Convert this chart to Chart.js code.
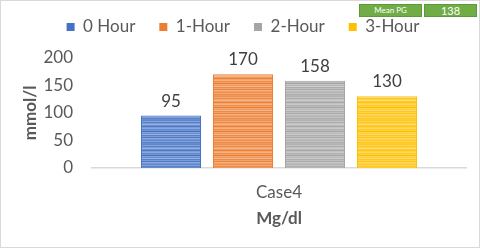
<!DOCTYPE html>
<html>
<head>
<meta charset="utf-8">
<script src="https://cdn.jsdelivr.net/npm/chart.js@4"></script>
<style>
  body { margin: 0; background: #fff; }
  #wrap { position: relative; width: 480px; height: 248px; }
  #frame { position: absolute; left: 0; top: 0; width: 480px; height: 248px; box-sizing: border-box;
           border: 1px solid #d9d9d9; pointer-events: none; }
  .pg { position: absolute; top: 4px; height: 13px; background: #70ad47; border: 1px solid #5b9a36;
        box-sizing: border-box; color: #fff; font-family: Lato, sans-serif; text-align: center; line-height: 11px; }
</style>
</head>
<body>
<div id="wrap">
  <canvas id="chart" width="480" height="248"></canvas>
  <div class="pg" style="left:359px;width:63px;font-size:8px;">Mean PG</div>
  <div class="pg" style="left:424px;width:53px;font-size:11px;">138</div>
  <div id="frame"></div>
</div>
<script>
// data
const categories = ['Case4'];
const seriesNames = ['0 Hour', '1-Hour', '2-Hour', '3-Hour'];
const seriesValues = [[95], [170], [158], [130]];
const yTicks = [0, 50, 100, 150, 200];

const colors = ['#4472c4', '#ed7d31', '#a5a5a5', '#ffc000'];

// horizontal stripe texture like the office export
function stripes(base) {
  const c = document.createElement('canvas');
  c.width = 4; c.height = 24;
  const g = c.getContext('2d');
  g.fillStyle = base;
  g.fillRect(0, 0, 4, 24);
  const light = [0.15, 0.35, 0.1, 0.3, 0.45, 0.2, 0.05, 0.3, 0.4, 0.15, 0.25, 0.0,
                 0.35, 0.2, 0.45, 0.1, 0.3, 0.05, 0.4, 0.25, 0.15, 0.35, 0.1, 0.2];
  light.forEach((a, i) => {
    g.fillStyle = 'rgba(255,255,255,' + a + ')';
    g.fillRect(0, i, 4, 1);
  });
  return g.createPattern(c, 'repeat');
}

const ctx = document.getElementById('chart').getContext('2d');

const valueLabels = {
  id: 'valueLabels',
  afterDatasetsDraw(chart) {
    const c = chart.ctx;
    c.save();
    c.font = '17px Lato';
    c.fillStyle = '#404040';
    c.textAlign = 'center';
    c.textBaseline = 'bottom';
    chart.data.datasets.forEach((ds, i) => {
      chart.getDatasetMeta(i).data.forEach((bar, j) => {
        c.fillText(ds.data[j], bar.x, bar.y - 6);
      });
    });
    c.restore();
  }
};

const tickFont = { family: 'Lato', size: 17 };

new Chart(ctx, {
  type: 'bar',
  data: {
    labels: categories,
    datasets: seriesNames.map((name, i) => ({
      label: name,
      data: seriesValues[i],
      backgroundColor: stripes(colors[i]),
      borderColor: colors[i],
      borderWidth: 1,
      categoryPercentage: 0.77,
      barPercentage: 0.833
    }))
  },
  options: {
    responsive: false,
    animation: false,
    layout: { padding: { left: 20, right: 14, top: -5.5, bottom: 19 } },
    plugins: {
      tooltip: { enabled: false },
      // empty title used as a spacer under the legend
      title: { display: true, text: ' ', position: 'top', weight: 100, font: { size: 1 }, padding: { top: 0, bottom: 11 } },
      legend: {
        labels: {
          color: '#595959',
          font: tickFont,
          boxWidth: 8,
          boxHeight: 8,
          padding: 24,
          generateLabels(chart) {
            return chart.data.datasets.map((ds, i) => ({
              text: ds.label,
              fillStyle: colors[i],
              strokeStyle: colors[i],
              lineWidth: 0,
              datasetIndex: i,
              fontColor: '#595959'
            }));
          }
        }
      }
    },
    scales: {
      x: {
        afterFit(scale) { scale.height = 61; },
        grid: { display: false, drawTicks: false },
        border: { color: '#d9d9d9', width: 1.5 },
        ticks: { color: '#595959', font: tickFont, padding: 14 },
        title: { display: true, text: 'Mg/dl', color: '#595959', font: { family: 'Lato', size: 17, weight: 'bold' }, padding: { top: 0, bottom: 0 } }
      },
      y: {
        min: 0,
        max: 200,
        afterFit(scale) { scale.width = 72; },
        afterBuildTicks(scale) { scale.ticks = yTicks.map(v => ({ value: v })); },
        grid: { display: false, drawTicks: false },
        border: { display: false },
        ticks: { color: '#595959', font: tickFont, padding: 19 },
        title: { display: true, text: 'mmol/l', color: '#595959', font: { family: 'Lato', size: 17, weight: 'bold' }, padding: { top: 0, bottom: 0 } }
      }
    }
  },
  plugins: [valueLabels]
});
</script>
</body>
</html>
